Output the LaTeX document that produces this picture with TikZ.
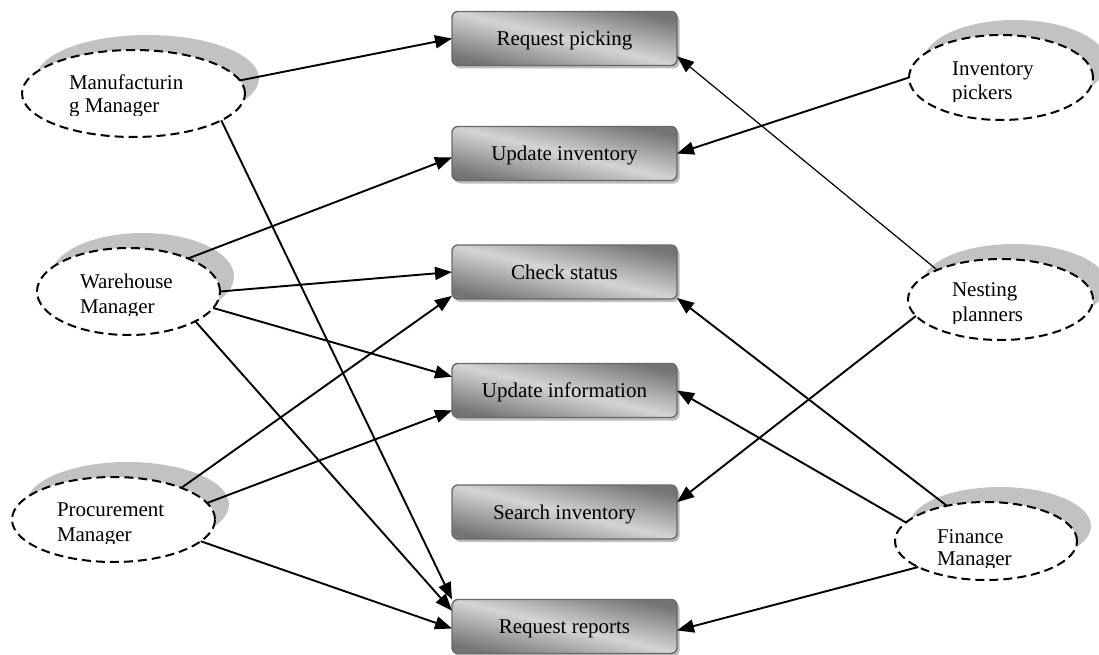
\documentclass[tikz,border=0pt]{standalone}
\usepackage{fontspec}
\setmainfont{Liberation Serif}
\usetikzlibrary{arrows.meta,shapes.geometric,shadows}

\definecolor{boxdark}{HTML}{747474}
\definecolor{boxlight}{HTML}{D4D4D4}
\definecolor{boxedge}{HTML}{686868}
\definecolor{boxshade}{HTML}{BDBDBD}
\definecolor{ellshade}{HTML}{C2C2C2}

\tikzset{
  usecase/.style={rectangle, rounded corners=6pt, minimum width=225pt, minimum height=54pt,
    inner sep=0pt, outer sep=0pt, draw=boxedge, line width=1.4pt,
    top color=boxdark, bottom color=boxdark, middle color=boxlight, shading angle=-13.5,
    general shadow={shadow xshift=2.5pt, shadow yshift=-3pt, fill=boxshade},
    font=\fontsize{21}{24}\selectfont, text height=14pt, text depth=0pt},
  actor/.style={ellipse, draw=black, line width=2pt, dash pattern=on 9pt off 5pt, fill=white,
    inner sep=0pt, outer sep=0pt,
    general shadow={shadow xshift=14pt, shadow yshift=15pt, fill=ellshade}},
  actortext/.style={anchor=base west, inner sep=0pt, outer sep=0pt,
    font=\fontsize{21}{24}\selectfont},
  link/.style={line width=1.9pt, -{Triangle[length=17pt,width=13pt]}},
  thinlink/.style={line width=1.2pt, -{Triangle[length=17pt,width=13pt]}},
}

\begin{document}
\begin{tikzpicture}[x=1pt, y=-1pt]
\useasboundingbox (0,0) rectangle (1099,655);

% use cases
\node[usecase] (rp)   at (564.5,38.5)  {Request picking};
\node[usecase] (ui)   at (564.5,153.5) {Update inventory};
\node[usecase] (cs)   at (564.5,272)   {Check status};
\node[usecase] (uinf) at (564.5,390.5) {Update information};
\node[usecase] (si)   at (564.5,512)   {Search inventory};
\node[usecase] (rr)   at (564.5,626.5) {Request reports};

% actors
\node[actor, minimum width=223pt, minimum height=87pt] (mfg) at (133.5,93.5)  {};
\node[actor, minimum width=183pt, minimum height=87pt] (wh)  at (128.5,291.5) {};
\node[actor, minimum width=203pt, minimum height=85pt] (pr)  at (113.5,519.5) {};
\node[actor, minimum width=184pt, minimum height=85pt] (ip)  at (1001,77.5)   {};
\node[actor, minimum width=185pt, minimum height=81pt] (np)  at (1000.5,299.5) {};
\node[actor, minimum width=182pt, minimum height=78pt] (fm)  at (986,541)     {};

% actor names, cut off below the second line
\begin{scope}
  \clip (0,40) rectangle (300,116);
  \node[actortext] (mfgA) at (69,90)  {Manufacturin};
  \node[actortext] (mfgB) at (69,113) {g Manager};
\end{scope}
\begin{scope}
  \clip (0,240) rectangle (300,315);
  \node[actortext] (whA) at (80,288) {Warehouse};
  \node[actortext] (whB) at (80,313) {Manager};
\end{scope}
\begin{scope}
  \clip (0,470) rectangle (300,543);
  \node[actortext] (prA) at (57,516) {Procurement};
  \node[actortext] (prB) at (57,541) {Manager};
\end{scope}
\begin{scope}
  \clip (880,30) rectangle (1099,102);
  \node[actortext] (ipA) at (952,76)  {Inventory};
  \node[actortext] (ipB) at (952,100) {pickers};
\end{scope}
\begin{scope}
  \clip (880,250) rectangle (1099,323);
  \node[actortext] (npA) at (952,296) {Nesting};
  \node[actortext] (npB) at (952,321) {planners};
\end{scope}
\begin{scope}
  \clip (880,495) rectangle (1099,567);
  \node[actortext] (fmA) at (937,543) {Finance};
  \node[actortext] (fmB) at (937,565) {Manager};
\end{scope}

% associations
\draw[link] (mfg.7) -- (rp.west);
\draw[link] (mfg.343.4) -- (rr.north west);
\draw[link] (wh.29.8) -- (ui.182);
\draw[link] (wh.east) -- (cs.west);
\draw[link] (wh.349.2) -- (uinf.173.7);
\draw[link] (wh.336) -- (rr.172.7);
\draw[link] (pr.25.1) -- (cs.192.3);
\draw[link] (pr.10.8) -- (uinf.190.8);
\draw[link] (pr.346.7) -- (rr.181.8);
\draw[link] (ip.west) -- (ui.east);
\draw[thinlink] (np.155) -- (rp.351.7);
\draw[link] (np.191.6) -- (si.5.1);
\draw[link] (fm.138) -- (cs.347.5);
\draw[link] (fm.167.3) -- (uinf.east);
\draw[link] (fm.201.7) -- (rr.358.2);
\end{tikzpicture}
\end{document}
